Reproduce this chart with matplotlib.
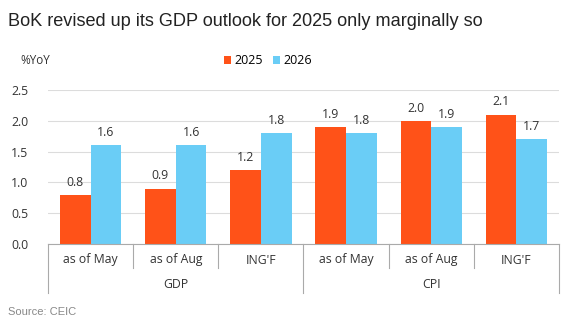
import matplotlib.pyplot as plt
from matplotlib.transforms import blended_transform_factory

categories = ["as of May", "as of Aug", "ING'F", "as of May", "as of Aug", "ING'F"]
groups = ["GDP", "CPI"]
y2025 = [0.8, 0.9, 1.2, 1.9, 2.0, 2.1]
y2026 = [1.6, 1.6, 1.8, 1.8, 1.9, 1.7]

orange = "#FF5218"
blue = "#6ACDF6"
W, H = 578, 335

fig = plt.figure(figsize=(W / 100, H / 100), dpi=100)
ax = fig.add_axes([48 / W, (H - 244) / H, 511 / W, 154 / H])

x = list(range(len(categories)))
bw = 0.36
ax.bar([i - bw / 2 for i in x], y2025, bw, color=orange, label="2025")
ax.bar([i + bw / 2 for i in x], y2026, bw, color=blue, label="2026")

lab_font = dict(family="Open Sans", fontsize=8.8, color="#333333")
for i in x:
    ax.text(i - bw / 2, y2025[i] + 0.1, f"{y2025[i]:.1f}", ha="center", va="bottom", **lab_font)
    ax.text(i + bw / 2, y2026[i] + 0.1, f"{y2026[i]:.1f}", ha="center", va="bottom", **lab_font)

ax.set_xlim(-0.5, len(categories) - 0.5)
ax.set_ylim(0, 2.5)
ax.set_yticks([0, 0.5, 1.0, 1.5, 2.0, 2.5])
ax.set_yticklabels([f"{v:.1f}" for v in ax.get_yticks()], **lab_font)
ax.tick_params(axis="y", length=0, pad=14)
ax.set_xticks([])
ax.yaxis.grid(True, color="#dcdcdc", linewidth=0.8)
ax.set_axisbelow(True)
for s in ["top", "right", "left"]:
    ax.spines[s].set_visible(False)
ax.spines["bottom"].set_color("#aaaaaa")

# two-level category axis below the bars
tr = blended_transform_factory(ax.transData, fig.transFigure)
fy = lambda py: (H - py) / H
for i in range(len(categories) + 1):
    bottom = 293 if i in (0, 3, 6) else 268
    ax.plot([i - 0.5, i - 0.5], [fy(244), fy(bottom)], color="#aaaaaa",
            linewidth=0.8, transform=tr, clip_on=False)
for i, c in enumerate(categories):
    ax.text(i, fy(260), c, ha="center", va="center", transform=tr, **lab_font)
for g, name in enumerate(groups):
    ax.text(g * 3 + 1, fy(284), name, ha="center", va="center", transform=tr, **lab_font)

fig.text(8 / W, fy(21), "BoK revised up its GDP outlook for 2025 only marginally so",
         family="Liberation Sans", fontsize=13.1, color="#222222", va="center")
fig.text(20 / W, fy(61), "%YoY", family="Open Sans", fontsize=8.5, color="#333333", va="center")
fig.legend(loc="center", bbox_to_anchor=(268 / W, fy(61)), ncol=2, frameon=False,
           handlelength=0.55, handleheight=0.55, handletextpad=0.3, columnspacing=0.8,
           prop=dict(family="Open Sans", size=9))
fig.text(8 / W, fy(312), "Source: CEIC", family="Liberation Sans", fontsize=8,
         color="#888888", va="center")

fig.savefig("out.png", dpi=100)
